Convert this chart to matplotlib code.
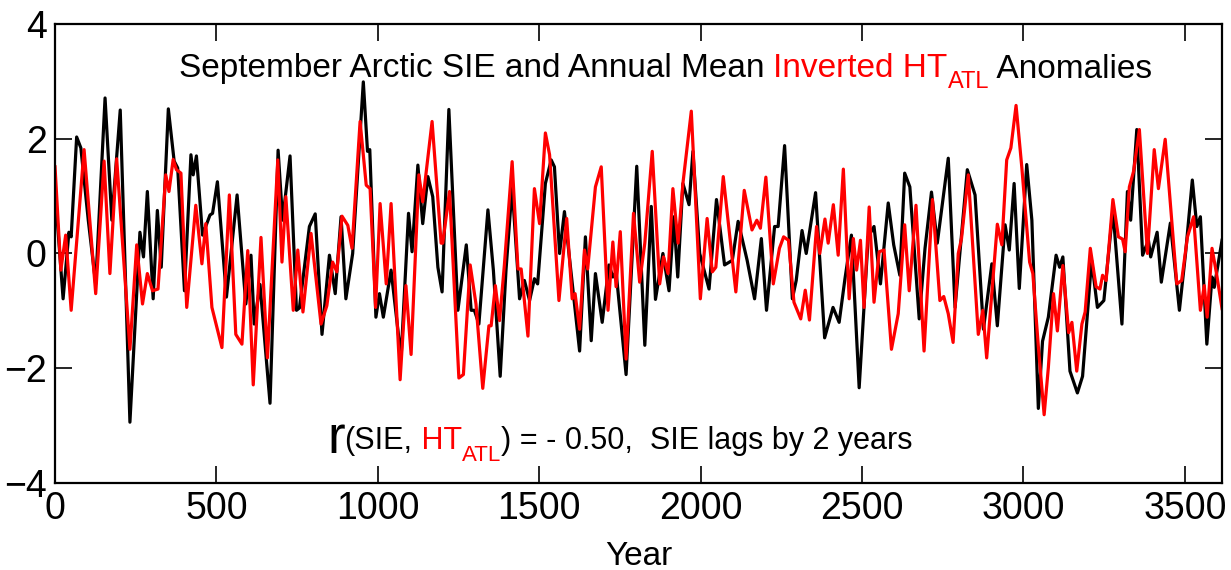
import matplotlib
matplotlib.use('Agg')
import matplotlib.pyplot as plt

plt.rcParams['font.family'] = ['Liberation Sans', 'DejaVu Sans']

# SIE anomalies (black) at peaks/troughs
sie_year = [0, 25, 43, 50, 67, 80, 103, 126, 155, 176, 202, 232, 263, 274, 286, 304, 317, 329,
            351, 369, 380, 401, 421, 428, 438, 457, 480, 488, 503, 531, 564, 591, 607, 617, 635,
            666, 691, 705, 728, 748, 757, 772, 788, 806, 827, 850, 868, 886, 901, 922, 955, 968,
            975, 994, 1005, 1017, 1041, 1072, 1095, 1106, 1124, 1139, 1155, 1170, 1186, 1199,
            1220, 1248, 1274, 1289, 1299, 1313, 1341, 1358, 1379, 1397, 1416, 1439, 1454, 1470,
            1485, 1495, 1519, 1537, 1547, 1563, 1578, 1599, 1625, 1643, 1661, 1674, 1695, 1716,
            1728, 1738, 1769, 1802, 1827, 1847, 1860, 1883, 1902, 1917, 1929, 1945, 1964, 1976,
            1997, 2026, 2049, 2074, 2098, 2116, 2144, 2167, 2188, 2204, 2229, 2240, 2260, 2284,
            2296, 2314, 2327, 2356, 2384, 2410, 2429, 2447, 2467, 2491, 2519, 2537, 2557, 2581,
            2598, 2617, 2632, 2648, 2677, 2695, 2715, 2733, 2767, 2788, 2826, 2850, 2876, 2902,
            2919, 2943, 2956, 2971, 2987, 3010, 3026, 3046, 3059, 3077, 3101, 3112, 3122, 3144,
            3167, 3183, 3211, 3229, 3249, 3277, 3305, 3322, 3332, 3351, 3369, 3387, 3394, 3414,
            3427, 3455, 3483, 3502, 3523, 3537, 3548, 3568, 3584, 3591, 3615]
sie_val = [1.1, -0.79, 0.37, 0.29, 2.03, 1.84, 0.58, -0.53, 2.71, 0.58, 2.5, -2.94, 0.37, -0.06,
           1.08, -0.79, 0.75, -0.24, 2.52, 1.61, 1.49, -0.65, 1.72, 1.37, 1.7, 0.32, 0.67, 0.7,
           1.25, -0.76, 1.02, -0.88, -0.03, -1.23, -0.54, -2.61, 1.8, 0.58, 1.7, -0.99, -0.95,
           -0.26, 0.47, 0.69, -1.41, -0.03, -0.7, 0.64, -0.79, 0.0, 2.99, 1.78, 1.81, -1.11,
           -0.7, -1.11, -0.29, -1.82, 0.7, 0.03, 1.54, 0.52, 1.34, 0.99, -0.24, -0.67, 2.51,
           -0.99, 0.15, -0.99, -0.99, -1.23, 0.76, -0.3, -2.14, -0.29, 1.16, -0.79, -0.47, -0.82,
           -0.44, -0.53, 1.22, 1.63, 1.51, 0.0, 0.73, -0.35, -1.7, 0.29, -1.52, -0.35, -1.2,
           -0.2, -0.41, -0.32, -2.11, 1.52, -1.6, 0.82, -0.8, 0.0, -0.65, 0.64, -0.41, 1.22,
           0.85, 1.78, 0.0, -0.62, 0.94, -0.2, -0.12, 0.56, -0.12, -0.79, 0.26, -0.99, 0.47,
           0.47, 1.88, -0.79, -0.47, 0.4, 0.0, 1.06, -1.47, -0.94, -1.2, -0.44, 0.32, -2.34,
           0.29, 0.47, -0.53, 0.88, 0.15, -0.38, 1.4, 1.16, -1.14, 0.09, 1.07, 0.18, 1.66,
           -0.94, 1.46, 1.02, -1.32, -0.18, -1.26, 0.5, 0.06, 1.22, -0.61, 1.55, 0.58, -2.7,
           -1.53, -1.11, -0.03, -0.24, -0.06, -2.05, -2.43, -2.14, -0.12, -0.94, -0.82, 0.76,
           -1.23, 1.08, 0.58, 2.16, -0.03, 0.23, -0.06, 0.37, -0.5, 0.53, -0.99, 0.0, 1.28,
           0.47, 0.64, -1.58, -0.41, -0.59, 0.23]

# inverted HT_ATL anomalies (red)
ht_year = [0, 18, 33, 50, 90, 126, 152, 170, 191, 232, 253, 271, 286, 302, 319, 343, 353, 366,
           376, 390, 408, 436, 455, 467, 486, 517, 540, 560, 579, 597, 614, 638, 658, 690, 703,
           715, 738, 752, 768, 793, 824, 842, 860, 873, 889, 907, 920, 945, 964, 976, 993, 1007,
           1026, 1041, 1069, 1087, 1103, 1127, 1139, 1168, 1196, 1201, 1222, 1251, 1265, 1286,
           1304, 1325, 1344, 1351, 1364, 1377, 1392, 1416, 1434, 1444, 1465, 1485, 1501, 1519,
           1532, 1561, 1585, 1602, 1611, 1625, 1640, 1650, 1674, 1692, 1713, 1728, 1738, 1751,
           1769, 1792, 1811, 1827, 1850, 1873, 1885, 1899, 1914, 1930, 1945, 1971, 1999, 2020,
           2036, 2047, 2070, 2109, 2135, 2159, 2174, 2185, 2202, 2225, 2244, 2257, 2272, 2289,
           2310, 2324, 2337, 2359, 2369, 2385, 2395, 2411, 2426, 2442, 2460, 2473, 2483, 2495,
           2506, 2522, 2537, 2553, 2568, 2591, 2612, 2632, 2646, 2667, 2692, 2718, 2741, 2753,
           2767, 2782, 2798, 2808, 2829, 2860, 2874, 2886, 2919, 2933, 2948, 2961, 2977, 2995,
           3019, 3029, 3046, 3064, 3077, 3093, 3105, 3122, 3140, 3150, 3165, 3181, 3191, 3207,
           3225, 3237, 3245, 3256, 3277, 3294, 3307, 3315, 3328, 3341, 3359, 3384, 3405, 3418,
           3439, 3475, 3490, 3508, 3527, 3548, 3560, 3569, 3584, 3598, 3615]
ht_val = [1.51, -0.29, 0.32, -0.99, 1.81, -0.7, 1.61, -0.35, 1.65, -1.67, 0.15, -0.88, -0.35,
          -0.65, -0.62, 1.37, 1.08, 1.64, 1.46, 1.4, -0.94, 0.84, -0.18, 0.52, -0.94, -1.64,
          1.02, -1.41, -1.58, 0.05, -2.29, 0.28, -1.82, 1.63, -0.15, 0.99, -0.99, 0.06, -1.02,
          0.35, -1.23, -0.91, -0.15, -0.32, 0.65, 0.49, 0.09, 2.3, 1.19, 1.13, -0.94, 0.87,
          -0.53, 0.87, -2.2, -0.56, -1.76, 1.37, 0.9, 2.3, 0.18, 0.18, 1.08, -2.17, -2.11,
          -0.2, -0.88, -2.35, -1.26, -1.26, -0.56, -1.17, -0.2, 1.6, -0.27, -0.27, -1.44, 1.13,
          0.52, 2.1, 1.72, -0.82, 0.61, -0.79, -0.7, -1.32, 0.06, -0.27, 1.16, 1.51, -0.99,
          0.2, -0.58, 0.38, -1.84, 0.7, -0.5, 0.18, 1.78, -0.53, -0.06, -0.35, 1.13, 0.18,
          1.22, 2.48, -0.79, 0.61, -0.32, -0.24, 1.34, -0.67, 1.1, 0.41, 0.58, 0.44, 1.33,
          -0.53, 0.09, 0.29, 0.23, -0.85, -1.14, -0.64, -1.16, 0.47, 0.0, 0.6, 0.18, 0.85,
          -0.03, 1.47, -0.79, 0.26, -0.29, 0.23, -0.94, 0.81, -0.85, 0.03, 0.06, -1.67, -1.05,
          0.5, -0.65, 0.84, -1.7, 0.94, -0.82, -0.75, -1.05, -1.55, 0.0, 0.26, 1.37, -1.41,
          -0.99, -1.82, 0.51, 0.15, 1.63, 1.84, 2.58, 1.49, -0.15, -0.35, -1.62, -2.81, -1.99,
          -0.7, -1.35, -0.21, -1.38, -1.2, -2.05, -1.23, -1.02, 0.09, -0.58, -0.62, -0.38,
          -0.47, 0.94, 0.29, 0.25, 0.03, 1.16, 1.43, 2.16, 0.0, 1.81, 1.13, 1.99, -0.53, -0.47,
          0.29, 0.64, -0.99, -0.56, -1.11, 0.09, -0.35, -0.96]

xticks = [0, 500, 1000, 1500, 2000, 2500, 3000, 3500]
yticks = [-4, -2, 0, 2, 4]
ytick_labels = ['\u22124', '\u22122', '0', '2', '4']

RED = '#ff0000'


def after(prev, s, color='black', size=24, dy=0, ref_y=0):
	# put a text piece right after the previous one
	return plt.gca().annotate(s, xy=(1, ref_y), xycoords=prev, xytext=(0, dy),
		textcoords='offset points', color=color, fontsize=size, va='bottom')


fig = plt.figure(figsize=(12.31, 5.70), dpi=100)
ax = fig.add_axes([0.0447, 0.1526, 0.948, 0.8054])

ax.plot(sie_year, sie_val, color='black', lw=2.3, solid_joinstyle='round')
ax.plot(ht_year, ht_val, color=RED, lw=2.3, solid_joinstyle='round')

ax.set_xlim(0, 3615)
ax.set_ylim(-4, 4)
ax.set_xticks(xticks)
ax.set_yticks(yticks)
ax.set_yticklabels(ytick_labels)
ax.tick_params(direction='in', length=12, width=1.2, top=True, right=True,
	labelsize=27, pad=6)
for sp in ax.spines.values():
	sp.set_linewidth(1.6)
ax.set_xlabel('Year', fontsize=24, labelpad=10)

# title line
t1 = ax.annotate('September Arctic SIE and Annual Mean ', xy=(0.106, 0.885),
	xycoords='axes fraction', fontsize=24, va='baseline')
t2 = after(t1, 'Inverted HT', RED)
t3 = after(t2, 'ATL', RED, size=17, dy=-7)
after(t3, ' Anomalies', ref_y=7 / 17 * 0.9)

# correlation line
b1 = ax.annotate('r', xy=(0.233, 0.065), xycoords='axes fraction', fontsize=38, va='baseline')
b2 = after(b1, '(SIE,', size=22, dy=6)
b3 = after(b2, ' HT', RED, size=22)
b4 = after(b3, 'ATL', RED, size=16, dy=-7)
after(b4, ') = - 0.50,  SIE lags by 2 years', size=22, dy=7)

fig.savefig('out.png', dpi=100)
